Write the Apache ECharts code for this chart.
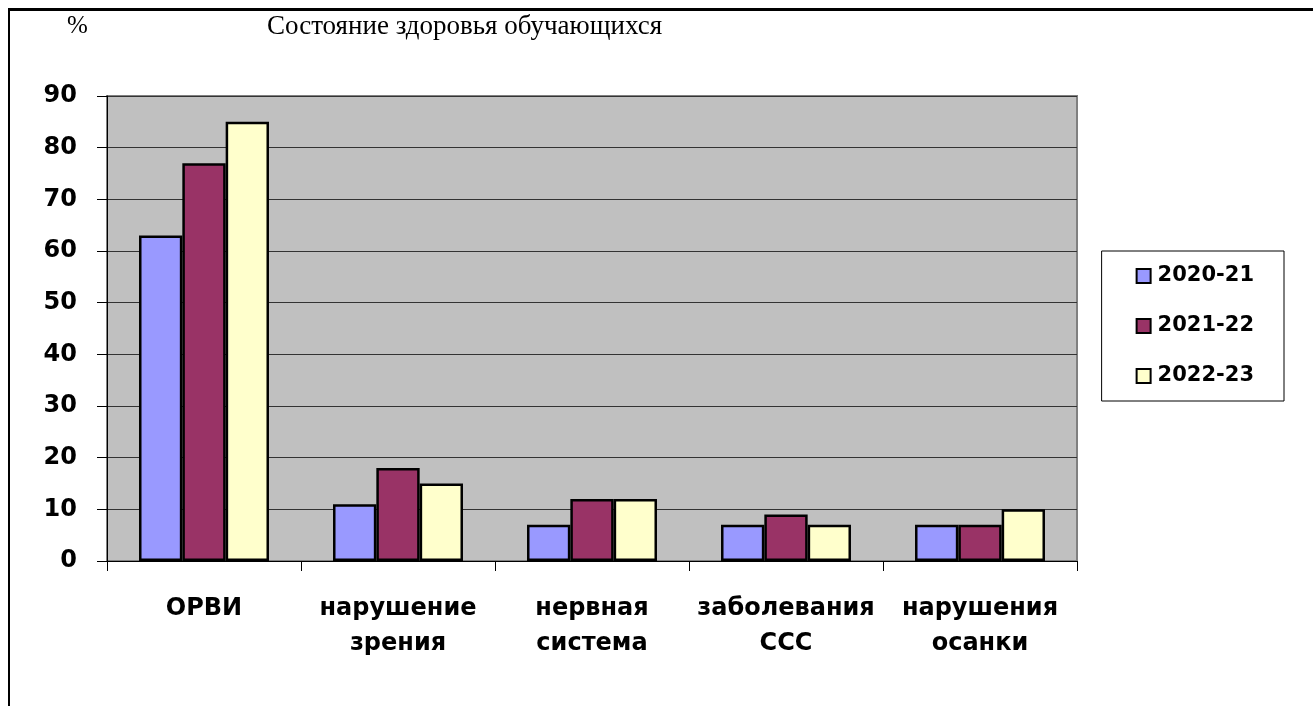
<!DOCTYPE html>
<html>
<head>
<meta charset="utf-8">
<script src="https://cdn.jsdelivr.net/npm/echarts@6/dist/echarts.min.js"></script>
<style>
	html, body { margin: 0; padding: 0; background: #fff; overflow: hidden; }
	#chart { width: 1313px; height: 706px; }
</style>
</head>
<body>
<div id="chart"></div>
<script>
	// данные диаграммы
	var categories = ['ОРВИ', 'нарушение\nзрения', 'нервная\nсистема', 'заболевания\nССС', 'нарушения\nосанки']
	var years = ['2020-21', '2021-22', '2022-23']
	var values2020 = [63, 11, 7, 7, 7]
	var values2021 = [77, 18, 12, 9, 7]
	var values2022 = [85, 15, 12, 7, 10]
	var yearColors = ['#9999ff', '#993366', '#ffffcc']

	var chart = echarts.init(document.getElementById('chart'))
	var seriesData = [values2020, values2021, values2022]

	chart.setOption({
		animation: false,
		textStyle: { fontFamily: 'DejaVu Sans' },
		graphic: [
			// рамка сверху и слева
			{ type: 'rect', shape: { x: 8, y: 8, width: 1305, height: 3 }, style: { fill: '#000' } },
			{ type: 'rect', shape: { x: 8, y: 8, width: 2, height: 698 }, style: { fill: '#000' } },
			{ type: 'text', left: 67, top: 14, style: { text: '%', font: '25px "Liberation Serif"', fill: '#000' } },
			{ type: 'text', left: 267, top: 13, style: { text: 'Состояние здоровья обучающихся', font: '27px "Liberation Serif"', fill: '#000' } }
		],
		grid: {
			left: 107,
			top: 96,
			right: 236,
			bottom: 145,
			show: true,
			backgroundColor: '#c0c0c0',
			borderColor: '#808080',
			borderWidth: 2
		},
		legend: {
			orient: 'vertical',
			right: 29,
			top: 251,
			data: years,
			itemWidth: 14,
			itemHeight: 14,
			itemGap: 28,
			padding: [14, 30, 14, 34],
			borderColor: '#000',
			borderWidth: 1,
			backgroundColor: '#fff',
			icon: 'rect',
			textStyle: { fontSize: 21, fontWeight: 'bold', color: '#000', lineHeight: 22, padding: [0, 0, 0, 2] }
		},
		xAxis: {
			type: 'category',
			data: categories,
			axisLine: { lineStyle: { color: '#000', width: 1 } },
			axisTick: { show: true, length: 10, lineStyle: { color: '#000' } },
			axisLabel: { margin: 30, fontSize: 24, fontWeight: 'bold', color: '#000', lineHeight: 35, interval: 0 }
		},
		yAxis: {
			type: 'value',
			min: 0,
			max: 90,
			interval: 10,
			axisLine: { show: true, lineStyle: { color: '#000', width: 1 } },
			axisTick: { show: true, length: 10, lineStyle: { color: '#000' } },
			axisLabel: { margin: 30, fontSize: 24, fontWeight: 'bold', color: '#000' },
			splitLine: { show: true, lineStyle: { color: '#333', width: 1 } }
		},
		series: years.map(function (y, i) {
			return {
				name: y,
				type: 'bar',
				data: seriesData[i],
				barGap: '0%',
				barCategoryGap: '33%',
				itemStyle: { color: yearColors[i], borderColor: '#000', borderWidth: 2.5 }
			}
		})
	})
</script>
</body>
</html>
